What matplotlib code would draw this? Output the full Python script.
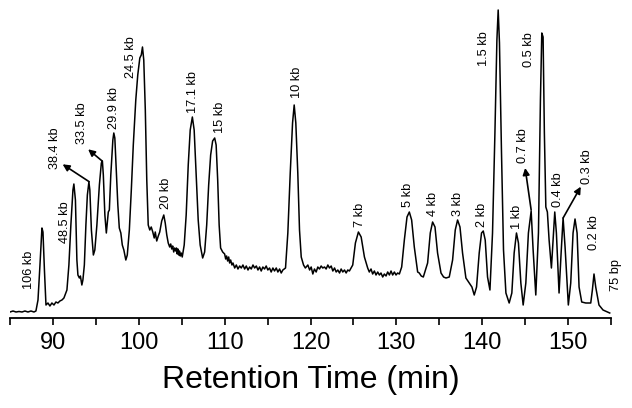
import matplotlib
matplotlib.use("Agg")
import matplotlib.pyplot as plt
from matplotlib.ticker import MultipleLocator

plt.rcParams["font.family"] = ["Liberation Sans", "DejaVu Sans"]

# Chromatogram trace: (retention time in min, detector signal in a.u.)
trace = [
    (85.00, 0), (85.35, 1), (85.70, 0), (86.05, 0.5), (86.40, 0), (86.74, 1),
    (87.09, 0), (87.44, 1), (87.79, 0), (88.02, 1), (88.26, 12), (88.49, 47),
    (88.72, 84), (88.84, 80), (89.01, 42), (89.19, 7), (89.42, 9), (89.65, 6),
    (89.88, 9), (90.12, 7), (90.35, 10), (90.58, 9), (90.81, 11), (91.05, 12),
    (91.28, 14), (91.63, 22), (91.86, 47), (92.09, 87), (92.33, 122), (92.44, 128),
    (92.62, 112), (92.79, 52), (92.91, 37), (93.08, 34), (93.20, 36), (93.37, 27),
    (93.49, 32), (93.66, 47), (93.84, 87), (94.01, 117), (94.19, 130), (94.30, 122),
    (94.48, 82), (94.71, 57), (94.88, 62), (95.12, 87), (95.41, 127), (95.64, 149),
    (95.76, 151), (95.87, 137), (96.05, 97), (96.22, 79), (96.34, 90), (96.45, 100),
    (96.57, 102), (96.74, 137), (96.98, 172), (97.09, 179), (97.21, 174), (97.38, 142),
    (97.56, 107), (97.73, 84), (97.91, 79), (98.08, 67), (98.26, 62), (98.49, 52),
    (98.66, 57), (98.90, 82), (99.13, 122), (99.36, 167), (99.65, 212), (99.88, 237),
    (100.12, 254), (100.29, 257), (100.43, 265), (100.58, 252), (100.76, 202),
    (100.93, 132), (101.10, 87), (101.28, 82), (101.45, 85), (101.63, 80),
    (101.80, 74), (101.92, 80), (102.09, 71), (102.27, 76), (102.44, 80),
    (102.67, 91), (102.91, 97), (103.08, 89), (103.26, 77), (103.43, 69),
    (103.60, 65), (103.72, 68), (103.84, 63), (103.95, 66), (104.07, 60),
    (104.18, 64), (104.30, 61), (104.39, 64), (104.48, 58), (104.56, 63),
    (104.65, 57), (104.74, 61), (104.83, 56), (104.94, 59), (105.06, 55),
    (105.29, 67), (105.52, 97), (105.76, 147), (105.99, 182), (106.24, 195),
    (106.45, 182), (106.69, 137), (106.92, 92), (107.15, 67), (107.44, 54),
    (107.67, 60), (107.91, 87), (108.14, 127), (108.37, 157), (108.60, 171),
    (108.84, 174), (109.01, 167), (109.19, 132), (109.36, 87), (109.53, 64),
    (109.77, 60), (110.00, 58), (110.12, 53), (110.23, 56), (110.35, 51),
    (110.47, 55), (110.58, 49), (110.70, 52), (110.85, 47), (110.97, 49),
    (111.17, 44), (111.36, 47), (111.55, 43), (111.75, 46), (111.94, 44),
    (112.13, 47), (112.33, 43), (112.52, 46), (112.72, 42), (112.91, 45),
    (113.10, 43), (113.30, 47), (113.49, 44), (113.69, 46), (113.88, 42),
    (114.07, 45), (114.26, 41), (114.45, 45), (114.65, 43), (114.84, 46),
    (115.03, 42), (115.23, 44), (115.42, 40), (115.62, 44), (115.81, 41),
    (116.01, 44), (116.20, 40), (116.40, 43), (116.59, 39), (116.78, 42),
    (117.09, 44), (117.36, 79), (117.64, 139), (117.91, 189), (118.10, 207),
    (118.29, 189), (118.52, 139), (118.72, 82), (118.92, 55), (119.19, 47),
    (119.40, 44), (119.69, 47), (119.90, 42), (120.08, 45), (120.27, 38),
    (120.46, 43), (120.66, 40), (120.85, 45), (121.05, 43), (121.24, 46),
    (121.43, 44), (121.63, 45), (121.82, 43), (122.02, 47), (122.21, 44),
    (122.41, 46), (122.60, 41), (122.80, 44), (122.99, 40), (123.18, 42),
    (123.38, 39), (123.57, 43), (123.76, 40), (123.96, 42), (124.15, 39),
    (124.34, 42), (124.53, 41), (124.73, 44), (124.92, 47), (125.23, 69),
    (125.58, 80), (125.90, 75), (126.28, 55), (126.66, 44), (126.85, 40),
    (127.05, 43), (127.24, 38), (127.44, 41), (127.63, 37), (127.83, 40),
    (128.02, 37), (128.21, 39), (128.41, 35), (128.60, 38), (128.80, 36),
    (128.99, 40), (129.19, 37), (129.38, 41), (129.57, 37), (129.77, 40),
    (129.96, 37), (130.15, 39), (130.35, 38), (130.62, 45), (130.93, 72),
    (131.24, 95), (131.51, 100), (131.78, 92), (132.09, 65), (132.48, 40),
    (132.67, 39), (132.90, 36), (133.14, 35), (133.64, 49), (133.95, 79),
    (134.22, 90), (134.50, 85), (134.80, 59), (135.20, 39), (135.50, 35),
    (135.78, 34), (136.16, 35), (136.55, 52), (136.86, 82), (137.13, 92),
    (137.41, 85), (137.71, 59), (138.10, 34), (138.49, 29), (138.80, 25),
    (139.07, 17), (139.34, 25), (139.65, 59), (139.92, 79), (140.12, 81),
    (140.35, 72), (140.62, 35), (140.90, 22), (141.20, 79), (141.48, 179),
    (141.71, 272), (141.86, 302), (142.01, 269), (142.24, 162), (142.48, 62),
    (142.76, 19), (143.14, 9), (143.45, 19), (143.72, 59), (143.99, 79),
    (144.22, 69), (144.50, 29), (144.77, 7), (145.08, 29), (145.38, 79),
    (145.70, 101), (145.93, 62), (146.24, 17), (146.55, 79), (146.78, 212),
    (146.94, 279), (147.09, 275), (147.24, 179), (147.41, 105), (147.59, 100),
    (147.79, 72), (148.06, 44), (148.26, 72), (148.45, 100), (148.64, 79),
    (148.95, 19), (149.19, 59), (149.42, 94), (149.65, 65), (150.03, 7),
    (150.31, 29), (150.58, 79), (150.81, 93), (151.05, 79), (151.28, 25),
    (151.59, 10), (152.06, 9), (152.64, 9), (152.83, 22), (153.02, 38),
    (153.22, 25), (153.60, 7), (154.07, 2), (154.57, 0), (154.85, -1),
]
time_min = [p[0] for p in trace]
signal = [p[1] for p in trace]

# Fragment size labels and where they sit (time, signal)
peak_labels = [
    "106 kb", "48.5 kb", "38.4 kb", "33.5 kb", "29.9 kb", "24.5 kb", "20 kb",
    "17.1 kb", "15 kb", "10 kb", "7 kb", "5 kb", "4 kb", "3 kb", "2 kb",
    "1.5 kb", "1 kb", "0.7 kb", "0.5 kb", "0.4 kb", "0.3 kb", "0.2 kb", "75 bp",
]
label_time = [
    87.21, 91.40, 90.23, 93.37, 97.09, 99.07, 103.14,
    106.28, 109.42, 118.37, 125.81, 131.40, 134.30, 137.21, 140.00,
    140.23, 144.07, 144.77, 145.47, 148.84, 152.21, 153.02, 155.58,
]
label_signal = [
    42, 90, 164, 189, 204, 255, 119,
    220, 195, 230, 97, 117, 108, 108, 97,
    263, 95, 166, 262, 122, 145, 79, 37,
]

# Arrows from crowded peaks to their labels: (tail time, tail signal, head time, head signal)
arrows = [
    (94.22, 130.3, 91.13, 147.7),
    (95.73, 151.0, 94.10, 162.7),
    (145.70, 102.0, 145.00, 144.0),
    (149.42, 94.0, 151.48, 125.3),
]

fig = plt.figure(figsize=(6.32, 4.08), dpi=100)
ax = fig.add_axes([10 / 632, 90 / 408, 601 / 632, 318 / 408])

ax.plot(time_min, signal, color="black", lw=1.1)

for txt, t, s in zip(peak_labels, label_time, label_signal):
    ax.text(t, s, txt, rotation=90, ha="center", va="center",
            fontsize=9.2, clip_on=False)

for t0, s0, t1, s1 in arrows:
    ax.annotate("", xy=(t1, s1), xytext=(t0, s0),
                arrowprops=dict(arrowstyle="-|>", color="black", lw=1.2,
                                mutation_scale=10, shrinkA=0, shrinkB=0))

ax.set_xlim(85, 155)
ax.set_ylim(-6, 312)

for side in ["top", "right", "left"]:
    ax.spines[side].set_visible(False)
ax.spines["bottom"].set_linewidth(1.3)
ax.set_yticks([])

ax.xaxis.set_major_locator(MultipleLocator(10))
ax.xaxis.set_minor_locator(MultipleLocator(5))
ax.tick_params(axis="x", which="major", direction="out", length=5, width=1.2,
               labelsize=17, pad=5)
ax.tick_params(axis="x", which="minor", direction="out", length=5, width=1.2)
ax.set_xlabel("Retention Time (min)", fontsize=23, labelpad=8)

fig.savefig("out.png", dpi=100)
